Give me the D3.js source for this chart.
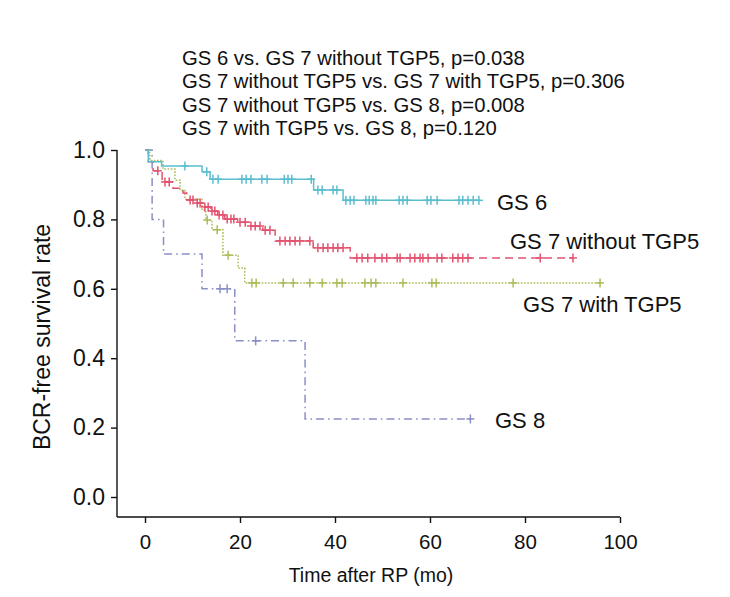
<!DOCTYPE html>
<html><head><meta charset="utf-8">
<script src="https://cdn.jsdelivr.net/npm/d3@7"></script>
<style>
html,body{margin:0;padding:0;background:#fff;}
text{font-family:"Liberation Sans",Arial,Helvetica,sans-serif;fill:#111;}
</style></head>
<body>
<svg id="chart" width="730" height="597"></svg>
<script>
// ---- data ----
const titleLines = [
  "GS 6 vs. GS 7 without TGP5, p=0.038",
  "GS 7 without TGP5 vs. GS 7 with TGP5, p=0.306",
  "GS 7 without TGP5 vs. GS 8, p=0.008",
  "GS 7 with TGP5 vs. GS 8, p=0.120"
];
const xTicks = [0, 20, 40, 60, 80, 100];
const yTicks = [0, 0.2, 0.4, 0.6, 0.8, 1.0];

const seriesNames = ["GS 6", "GS 7 without TGP5", "GS 7 with TGP5", "GS 8"];

const gs6Steps = [[0,1.0],[0.7,0.966],[3.5,0.954],[12.0,0.937],[13.7,0.916],[35.5,0.885],[41.7,0.855]];
const gs6End = 70.3;
const gs6Censor = [8.4,13.0,14.3,15.4,20.4,21.3,22.3,24.6,25.7,29.3,30.1,30.9,35.0,36.4,37.3,39.6,40.4,
  42.3,43.2,44.0,46.5,47.2,48.0,48.6,53.5,54.3,55.2,59.4,60.2,61.5,66.1,66.9,68.0,69.1,70.3];

const gs7woSteps = [[0,1.0],[0.7,0.966],[1.7,0.94],[3.6,0.908],[5.9,0.89],[8.0,0.876],[8.8,0.856],[10.6,0.847],
  [12.2,0.836],[13.9,0.824],[15.3,0.813],[16.8,0.801],[19.5,0.792],[21.9,0.781],[24.8,0.769],[27.4,0.738],
  [35.4,0.718],[43.2,0.689]];
const gs7woEnd = 90.1;
const gs7woCensor = [2.7,4.2,5.1,9.5,10.1,11.0,11.6,12.6,13.3,14.1,14.7,15.6,16.4,17.3,18.1,18.7,20.0,21.1,
  22.3,23.2,24.2,25.3,26.3,28.4,29.5,30.5,31.6,32.6,34.7,36.4,37.5,38.5,39.6,40.6,41.7,44.6,45.7,46.9,48.4,
  49.9,50.9,53.1,53.7,55.8,56.8,57.9,58.5,59.6,61.5,62.5,64.8,65.9,66.9,68.0,83.2,90.1];

const gs7wSteps = [[0,1.0],[1.0,0.97],[3.8,0.945],[6.3,0.913],[7.4,0.884],[8.4,0.858],[12.0,0.827],[12.8,0.798],
  [14.1,0.77],[16.4,0.697],[19.6,0.66],[21.0,0.617]];
const gs7wEnd = 95.8;
const gs7wCensor = [13.1,15.2,17.5,22.5,23.4,29.1,31.2,34.7,37.3,40.4,41.5,46.3,47.6,48.6,54.3,60.4,61.3,77.5,95.8];

const gs8Steps = [[0,1.0],[1.5,0.8],[3.9,0.7],[12.0,0.6],[18.9,0.45],[33.7,0.225]];
const gs8End = 68.5;
const gs8Censor = [15.8,17.3,23.3,68.5];

const seriesColors = ["#5bbecf", "#e2526f", "#adbb5a", "#8a8fc8"];
const seriesDash = [null, "8,5", "1.6,1.6", "8,4,1.6,4"];

// ---- drawing ----
const svg = d3.select("#chart");
const x = d3.scaleLinear().domain([0, 100]).range([145, 620]);
const y = d3.scaleLinear().domain([0, 1]).range([497, 150]);

const series = [
  {steps: gs8Steps, end: gs8End, censor: gs8Censor, i: 3},
  {steps: gs7wSteps, end: gs7wEnd, censor: gs7wCensor, i: 2},
  {steps: gs7woSteps, end: gs7woEnd, censor: gs7woCensor, i: 1},
  {steps: gs6Steps, end: gs6End, censor: gs6Censor, i: 0}
];

// title
svg.append("g").selectAll("text").data(titleLines).join("text")
  .attr("x", 182).attr("y", (d, i) => 65 + i * 23.3)
  .style("font-size", "20.3px").text(d => d);

// axes
const axisColor = "#111";
svg.append("line").attr("x1", 117).attr("x2", 117).attr("y1", y(1)).attr("y2", 517)
  .attr("stroke", axisColor).attr("stroke-width", 1.4);
svg.append("line").attr("x1", 117).attr("x2", x(100)).attr("y1", 517).attr("y2", 517)
  .attr("stroke", axisColor).attr("stroke-width", 1.4);

const yAxis = svg.append("g").attr("transform", "translate(117,0)")
  .call(d3.axisLeft(y).tickValues(yTicks).tickFormat(d3.format(".1f")).tickSize(6).tickPadding(6));
const xAxis = svg.append("g").attr("transform", "translate(0,517)")
  .call(d3.axisBottom(x).tickValues(xTicks).tickFormat(d3.format("d")).tickSize(6).tickPadding(11));
[yAxis, xAxis].forEach(g => {
  g.select(".domain").remove();
  g.selectAll(".tick line").attr("stroke", axisColor).attr("stroke-width", 1.4);
  g.selectAll(".tick text").attr("fill", "#111");
});
yAxis.selectAll(".tick text").style("font-size", "23px");
xAxis.selectAll(".tick text").style("font-size", "20.5px");

svg.append("text").attr("x", 371).attr("y", 582).attr("text-anchor", "middle")
  .style("font-size", "19.5px").text("Time after RP (mo)");
svg.append("text").attr("transform", "translate(50,337) rotate(-90)").attr("text-anchor", "middle")
  .style("font-size", "23px").text("BCR-free survival rate");

// curves
function survAt(steps, t) {
  let s = steps[0][1];
  for (const p of steps) { if (p[0] <= t) s = p[1]; }
  return s;
}
const line = d3.line().x(d => x(d[0])).y(d => y(d[1])).curve(d3.curveStepAfter);

series.forEach(s => {
  const pts = s.steps.concat([[s.end, s.steps[s.steps.length - 1][1]]]);
  const col = seriesColors[s.i];
  const g = svg.append("g");
  g.append("path").datum(pts).attr("d", line).attr("fill", "none")
    .attr("stroke", col).attr("stroke-width", 1.5)
    .attr("stroke-dasharray", seriesDash[s.i]);
  const cg = g.selectAll("g.c").data(s.censor).join("g").attr("class", "c")
    .attr("transform", d => `translate(${x(d)},${y(survAt(s.steps, d))})`);
  cg.append("line").attr("x1", 0).attr("x2", 0).attr("y1", -4.5).attr("y2", 4.5)
    .attr("stroke", col).attr("stroke-width", 1.5);
  cg.append("line").attr("x1", -4).attr("x2", 4).attr("y1", 0).attr("y2", 0)
    .attr("stroke", col).attr("stroke-width", 1.5);
});

// curve labels
const labelPos = [[497, 210], [510, 249], [523, 312], [495, 428]];
svg.append("g").selectAll("text").data(seriesNames).join("text")
  .attr("x", (d, i) => labelPos[i][0]).attr("y", (d, i) => labelPos[i][1])
  .style("font-size", "22px").text(d => d);
</script>
</body></html>
